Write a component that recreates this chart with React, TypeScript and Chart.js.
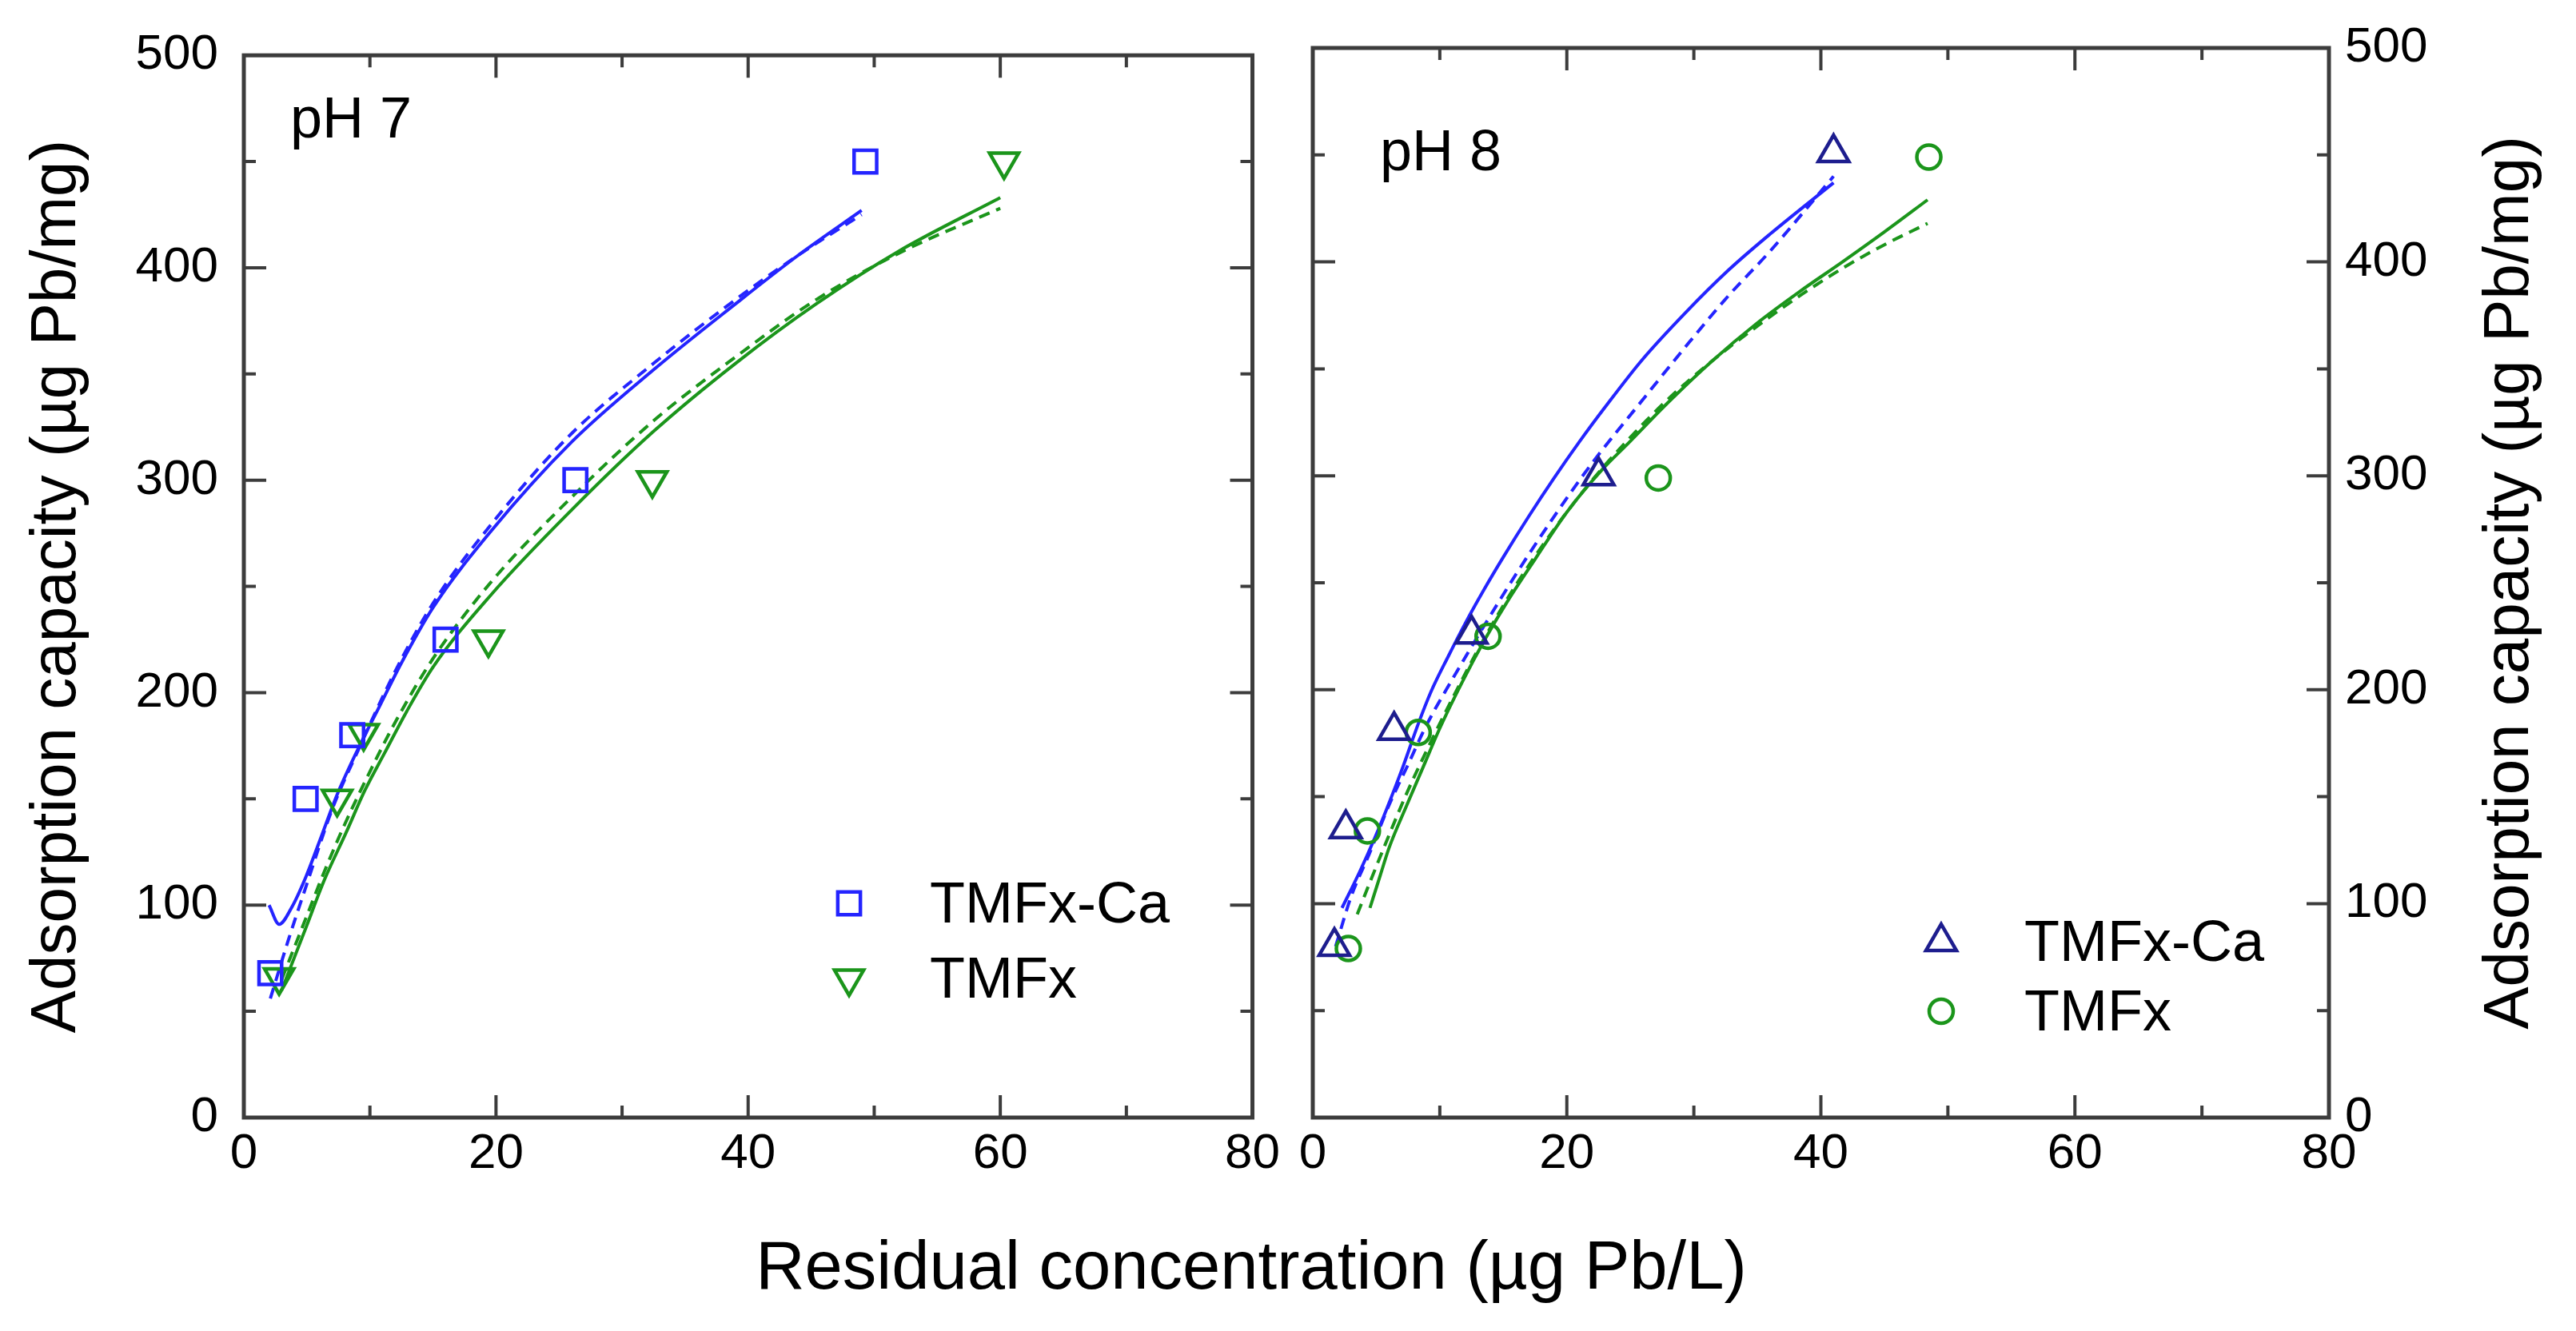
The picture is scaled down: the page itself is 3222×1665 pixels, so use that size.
import React, { useEffect, useRef } from "react";
import { Chart, registerables } from "chart.js";

Chart.register(...registerables);

// measured points, pH 7
const ph7CaX = [2.1, 4.9, 8.6, 16, 26.3, 49.3];
const ph7CaY = [68, 150, 180, 225, 300, 450];
const ph7PlainX = [2.8, 7.4, 9.5, 19.4, 32.4, 60.3];
const ph7PlainY = [66, 150, 181, 225, 300, 450];

// measured points, pH 8
const ph8CaX = [1.7, 2.6, 6.4, 12.5, 22.5, 41];
const ph8CaY = [80, 135, 181, 226, 300, 451];
const ph8PlainX = [2.8, 4.3, 8.3, 13.8, 27.2, 48.5];
const ph8PlainY = [79, 134, 180, 225, 299, 449];

// fitted isotherms (solid and dashed), pH 7
const fit7CaSolidX = [2.0, 2.8, 3.8, 4.9, 6, 7.4, 9.1, 10.8, 12.5, 15, 19.6, 26, 32.5, 39, 44, 49];
const fit7CaSolidY = [100, 91, 99, 113, 130, 152, 174, 194, 214, 240, 276, 318, 352, 383, 406, 427];
const fit7CaDashX = [2.1, 3.5, 5, 7, 9, 12, 15, 20, 26, 32.5, 39, 44, 49];
const fit7CaDashY = [56, 83, 110, 145, 172, 210, 242, 282, 322, 355, 385, 406, 425];
const fit7SolidX = [3, 4.9, 6.4, 8.1, 9.6, 11.2, 12.9, 15, 19.6, 26, 32.5, 39, 45.4, 52, 60];
const fit7SolidY = [60, 89, 112, 134, 154, 172, 191, 212, 246, 286, 323, 355, 383, 408, 433];
const fit7DashX = [3, 5, 6.4, 8, 9.6, 12, 15, 19.6, 26, 32.5, 39, 45.4, 52, 60];
const fit7DashY = [65, 95, 116, 138, 158, 186, 216, 252, 292, 328, 358, 385, 407, 428];

// fitted isotherms, pH 8
const fit8CaSolidX = [2.3, 3.7, 4.9, 5.8, 7.1, 8.3, 9.3, 10.7, 12, 13.5, 15, 17, 19, 21, 23, 25.9, 29.3, 32.7, 36, 41];
const fit8CaSolidY = [98, 115, 131, 144, 164, 184, 199, 216, 231, 247, 262, 281, 299, 316, 332, 354, 376, 396, 413, 437];
const fit8CaDashX = [1.8, 3, 4.5, 6, 7.5, 9, 11, 13.5, 16, 19, 22, 25.9, 29.3, 32.7, 36, 41];
const fit8CaDashY = [80, 103, 124, 146, 165, 184, 205, 230, 254, 281, 306, 335, 360, 384, 405, 440];
const fit8SolidX = [4.5, 5.3, 6, 7.4, 8.7, 10, 11.8, 13.6, 15.4, 17.5, 20, 22.8, 24.8, 28.1, 31.5, 34.9, 38.3, 41.7, 45, 48.4];
const fit8SolidY = [98, 113, 126, 146, 164, 182, 204, 224, 242, 261, 283, 303, 315, 335, 354, 371, 386, 400, 414, 429];
const fit8DashX = [3.5, 4.5, 6, 7.5, 9, 11, 13.5, 16, 19, 22, 25, 28, 31.5, 35, 38.3, 41.7, 45, 48.4];
const fit8DashY = [95, 110, 132, 153, 172, 196, 224, 249, 275, 298, 318, 336, 354, 370, 384, 397, 408, 418];

const xTicks = [0, 20, 40, 60, 80];
const yTicks = [0, 100, 200, 300, 400, 500];

const FONT = "'Liberation Sans', Arial, sans-serif";
const BLUE = "#2424ff";
const GREEN = "#1b951b";
const NAVY = "#1d1d8e";
const FRAME = "#3c3c3c";
const H = 1520;

const pts = (xs: number[], ys: number[]) => xs.map((x, i) => ({ x, y: ys[i] }));

const markers = {
  square: { style: "rect", rotation: 0, radius: 20 },
  down: { style: "triangle", rotation: 180, radius: 21 },
  up: { style: "triangle", rotation: 0, radius: 22 },
  circle: { style: "circle", rotation: 0, radius: 15 },
};

function markerSet(label: string, xs: number[], ys: number[], color: string, kind: keyof typeof markers) {
  const m = markers[kind];
  return {
    label,
    data: pts(xs, ys),
    showLine: false,
    pointStyle: m.style,
    pointRotation: m.rotation,
    pointRadius: m.radius,
    pointBorderWidth: 4.5,
    pointBorderColor: color,
    pointBackgroundColor: "rgba(0,0,0,0)",
    borderColor: color,
  };
}

function curveSet(xs: number[], ys: number[], color: string, dashed: boolean) {
  return {
    data: pts(xs, ys),
    showLine: true,
    borderColor: color,
    borderWidth: 4,
    borderDash: dashed ? [14, 9] : [],
    pointRadius: 0,
    tension: 0.4,
    cubicInterpolationMode: "monotone",
    fill: false,
  };
}

function drawMarker(ctx: CanvasRenderingContext2D, kind: keyof typeof markers, x: number, y: number, color: string) {
  const r = markers[kind].radius;
  ctx.save();
  ctx.strokeStyle = color;
  ctx.lineWidth = 4.5;
  ctx.beginPath();
  if (kind === "square") {
    const s = Math.SQRT1_2 * r;
    ctx.rect(x - s, y - s, 2 * s, 2 * s);
  } else if (kind === "circle") {
    ctx.arc(x, y, r, 0, Math.PI * 2);
  } else {
    const k = kind === "up" ? 1 : -1;
    ctx.moveTo(x, y - k * r);
    ctx.lineTo(x + r * Math.sin((2 * Math.PI) / 3), y + k * r * 0.5);
    ctx.lineTo(x - r * Math.sin((2 * Math.PI) / 3), y + k * r * 0.5);
    ctx.closePath();
  }
  ctx.stroke();
  ctx.restore();
}

type Decor = {
  tag: string;
  tagX: number;
  tagY: number;
  legend: { label: string; kind: keyof typeof markers; color: string; y: number }[];
  legendMarkX: number;
  legendTextX: number;
  rightTitle?: { x: number; text: string };
};

function decorPlugin(decor: Decor) {
  return {
    id: "decor",
    afterDraw(chart: any) {
      const { ctx, chartArea: a, scales } = chart;
      ctx.save();
      ctx.strokeStyle = FRAME;
      ctx.lineWidth = 5;
      ctx.strokeRect(a.left, a.top, a.right - a.left, a.bottom - a.top);

      // inward ticks on all four sides
      ctx.lineWidth = 4;
      ctx.beginPath();
      for (let v = 10; v < 80; v += 10) {
        const px = scales.x.getPixelForValue(v);
        const len = v % 20 === 0 ? 28 : 15;
        ctx.moveTo(px, a.bottom);
        ctx.lineTo(px, a.bottom - len);
        ctx.moveTo(px, a.top);
        ctx.lineTo(px, a.top + len);
      }
      for (let v = 50; v < 500; v += 50) {
        const py = scales.y.getPixelForValue(v);
        const len = v % 100 === 0 ? 28 : 15;
        ctx.moveTo(a.left, py);
        ctx.lineTo(a.left + len, py);
        ctx.moveTo(a.right, py);
        ctx.lineTo(a.right - len, py);
      }
      ctx.stroke();

      ctx.fillStyle = "#000";
      ctx.textBaseline = "alphabetic";
      ctx.textAlign = "left";
      ctx.font = `72px ${FONT}`;
      ctx.fillText(decor.tag, decor.tagX, decor.tagY);

      decor.legend.forEach((item) => {
        drawMarker(ctx, item.kind, decor.legendMarkX, item.y, item.color);
        ctx.fillText(item.label, decor.legendTextX, item.y + 24);
      });

      if (decor.rightTitle) {
        ctx.translate(decor.rightTitle.x, (a.top + a.bottom) / 2);
        ctx.rotate(-Math.PI / 2);
        ctx.textAlign = "center";
        ctx.textBaseline = "middle";
        ctx.font = `80px ${FONT}`;
        ctx.fillText(decor.rightTitle.text, 0, 0);
      }
      ctx.restore();
    },
  };
}

function Panel({ side, left, width, datasets, decor }: any) {
  const ref = useRef<HTMLCanvasElement>(null);
  useEffect(() => {
    if (!ref.current) return;
    const isLeft = side === "left";
    const chart = new Chart(ref.current, {
      type: "scatter",
      data: { datasets },
      options: {
        animation: false,
        responsive: false,
        devicePixelRatio: 1,
        layout: { padding: { top: 60, left: isLeft ? 0 : 32, right: isLeft ? 33 : 0, bottom: 0 } },
        plugins: { legend: { display: false }, tooltip: { enabled: false } },
        scales: {
          x: {
            type: "linear",
            min: 0,
            max: 80,
            grid: { display: false, drawTicks: false },
            border: { display: false },
            afterBuildTicks: (s: any) => {
              s.ticks = xTicks.map((value) => ({ value }));
            },
            ticks: { color: "#000", font: { family: FONT, size: 62 }, padding: 9 },
            afterFit: (s: any) => {
              s.height = H - 1398;
            },
          },
          y: {
            type: "linear",
            position: isLeft ? "left" : "right",
            min: 0,
            max: 500,
            grid: { display: false, drawTicks: false },
            border: { display: false },
            afterBuildTicks: (s: any) => {
              s.ticks = yTicks.map((value) => ({ value }));
            },
            ticks: { color: "#000", font: { family: FONT, size: 62 }, padding: isLeft ? 32 : 20 },
            title: isLeft
              ? {
                  display: true,
                  text: "Adsorption capacity (µg Pb/mg)",
                  color: "#000",
                  font: { family: FONT, size: 80 },
                  padding: { top: 24, bottom: 0 },
                }
              : { display: false },
            afterFit: (s: any) => {
              s.width = isLeft ? 305 : 309;
            },
          },
        },
      } as any,
      plugins: [decorPlugin(decor)],
    });
    return () => chart.destroy();
  }, []);
  return (
    <canvas
      ref={ref}
      width={width}
      height={H}
      style={{ position: "absolute", left, top: 0, width, height: H }}
    />
  );
}

export default function App() {
  const leftSets = [
    markerSet("TMFx-Ca", ph7CaX, ph7CaY, BLUE, "square"),
    markerSet("TMFx", ph7PlainX, ph7PlainY, GREEN, "down"),
    curveSet(fit7CaSolidX, fit7CaSolidY, BLUE, false),
    curveSet(fit7CaDashX, fit7CaDashY, BLUE, true),
    curveSet(fit7SolidX, fit7SolidY, GREEN, false),
    curveSet(fit7DashX, fit7DashY, GREEN, true),
  ];
  const rightSets = [
    markerSet("TMFx-Ca", ph8CaX, ph8CaY, NAVY, "up"),
    markerSet("TMFx", ph8PlainX, ph8PlainY, GREEN, "circle"),
    curveSet(fit8CaSolidX, fit8CaSolidY, BLUE, false),
    curveSet(fit8CaDashX, fit8CaDashY, BLUE, true),
    curveSet(fit8SolidX, fit8SolidY, GREEN, false),
    curveSet(fit8DashX, fit8DashY, GREEN, true),
  ];
  const leftDecor: Decor = {
    tag: "pH 7",
    tagX: 363,
    tagY: 172,
    legendMarkX: 1062,
    legendTextX: 1163,
    legend: [
      { label: "TMFx-Ca", kind: "square", color: BLUE, y: 1130 },
      { label: "TMFx", kind: "down", color: GREEN, y: 1224 },
    ],
  };
  const rightDecor: Decor = {
    tag: "pH 8",
    tagX: 116,
    tagY: 213,
    legendMarkX: 818,
    legendTextX: 922,
    legend: [
      { label: "TMFx-Ca", kind: "up", color: NAVY, y: 1178 },
      { label: "TMFx", kind: "circle", color: GREEN, y: 1265 },
    ],
    rightTitle: { x: 1530, text: "Adsorption capacity (µg Pb/mg)" },
  };
  return (
    <div
      style={{
        position: "fixed",
        left: 0,
        top: 0,
        width: 3222,
        height: 1665,
        background: "#fff",
        overflow: "hidden",
      }}
    >
      <Panel side="left" left={0} width={1610} datasets={leftSets} decor={leftDecor} />
      <Panel side="right" left={1610} width={1612} datasets={rightSets} decor={rightDecor} />
      <div
        style={{
          position: "absolute",
          left: 0,
          top: 1540,
          width: 3130,
          textAlign: "center",
          fontFamily: FONT,
          fontSize: 85,
          lineHeight: "85px",
          whiteSpace: "nowrap",
          color: "#000",
        }}
      >
        Residual concentration (µg Pb/L)
      </div>
    </div>
  );
}
